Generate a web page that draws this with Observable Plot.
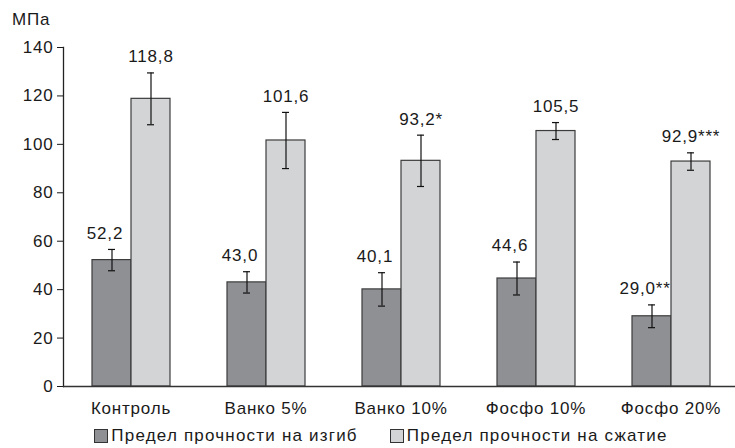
<!DOCTYPE html>
<html>
<head>
<meta charset="utf-8">
<script src="https://cdn.jsdelivr.net/npm/d3@7"></script>
<script src="https://cdn.jsdelivr.net/npm/@observablehq/plot@0.6"></script>
<style>
  html, body { margin: 0; padding: 0; background: #fff; overflow: hidden; }
  #wrap { position: relative; width: 739px; font-family: "Liberation Sans", Arial, sans-serif; color: #1a1a1a; }
  #unit { position: absolute; left: 12px; top: 10px; font-size: 17px; letter-spacing: 0.8px; }
  #legend { display: flex; justify-content: center; align-items: center; gap: 32px; line-height: 20px;
            font-size: 17px; letter-spacing: 1.2px; height: 22px; padding-left: 23px; box-sizing: border-box; width: 739px; }
  #legend .item { display: flex; align-items: center; gap: 3px; }
  #legend .sw { width: 12px; height: 12px; border: 1px solid #333; display: inline-block; }
</style>
</head>
<body>
<div id="wrap"><div id="unit"></div><div id="chart"></div><div id="legend"></div></div>
<script>
const categories = ["Контроль", "Ванко 5%", "Ванко 10%", "Фосфо 10%", "Фосфо 20%"];
const series = ["Предел прочности на изгиб", "Предел прочности на сжатие"];
const seriesColors = ["#8f9094", "#d3d4d6"];
const bending = [52.2, 43.0, 40.1, 44.6, 29.0];
const bendingErr = [4.4, 4.4, 6.9, 6.8, 4.7];
const bendingLabels = ["52,2", "43,0", "40,1", "44,6", "29,0**"];
const compression = [118.8, 101.6, 93.2, 105.5, 92.9];
const compressionErr = [10.7, 11.6, 10.6, 3.5, 3.6];
const compressionLabels = ["118,8", "101,6", "93,2*", "105,5", "92,9***"];
const yTicks = [0, 20, 40, 60, 80, 100, 120, 140];
const yUnit = "МПа";

const rows = [];
categories.forEach((c, i) => {
  rows.push({cat: c, series: series[0], value: bending[i], err: bendingErr[i], label: bendingLabels[i]});
  rows.push({cat: c, series: series[1], value: compression[i], err: compressionErr[i], label: compressionLabels[i]});
});
const bendRows = rows.filter(d => d.series === series[0]);
const compRows = rows.filter(d => d.series === series[1]);

const chart = Plot.plot({
  width: 739,
  height: 425,
  marginLeft: 61,
  marginRight: 0,
  marginTop: 47,
  marginBottom: 39,
  style: {fontFamily: "'Liberation Sans', Arial, sans-serif", fontSize: "17px", color: "#1a1a1a", letterSpacing: "0.8px", background: "#fff"},
  fx: {domain: categories, padding: 0, label: null, axis: "bottom", tickSize: 0, tickPadding: 15},
  x: {domain: series, paddingInner: 0, paddingOuter: 0.695, axis: null},
  y: {domain: [0, 140], ticks: yTicks, label: null, tickSize: 6, tickPadding: 4},
  color: {domain: series, range: seriesColors},
  marks: [
    Plot.frame({anchor: "left", facetAnchor: "left", stroke: "#222", strokeWidth: 1.3}),
    Plot.barY(rows, {fx: "cat", x: "series", y: "value", fill: "series", stroke: "#3c3c3c", strokeWidth: 1.2}),
    Plot.ruleX(rows, {fx: "cat", x: "series", y1: d => d.value - d.err, y2: d => d.value + d.err, stroke: "#111", strokeWidth: 1.2}),
    Plot.tickY(rows, {fx: "cat", x: "series", y: d => d.value + d.err, stroke: "#111", strokeWidth: 1.2, insetLeft: 16, insetRight: 16}),
    Plot.tickY(rows, {fx: "cat", x: "series", y: d => d.value - d.err, stroke: "#111", strokeWidth: 1.2, insetLeft: 16, insetRight: 16}),
    Plot.text(bendRows, {fx: "cat", x: "series", y: d => d.value + d.err, text: "label", dy: -16, dx: -7, lineAnchor: "middle", fill: "#1a1a1a"}),
    Plot.text(compRows, {fx: "cat", x: "series", y: d => d.value + d.err, text: "label", dy: -16, lineAnchor: "middle", fill: "#1a1a1a"}),
    Plot.ruleY([0], {stroke: "#333", strokeWidth: 1.5})
  ]
});
document.getElementById("chart").appendChild(chart);
document.getElementById("unit").textContent = yUnit;

const legend = document.getElementById("legend");
series.forEach((s, i) => {
  const item = document.createElement("div");
  item.className = "item";
  const sw = document.createElement("span");
  sw.className = "sw";
  sw.style.background = seriesColors[i];
  const t = document.createElement("span");
  t.textContent = s;
  item.appendChild(sw);
  item.appendChild(t);
  legend.appendChild(item);
});
</script>
</body>
</html>
